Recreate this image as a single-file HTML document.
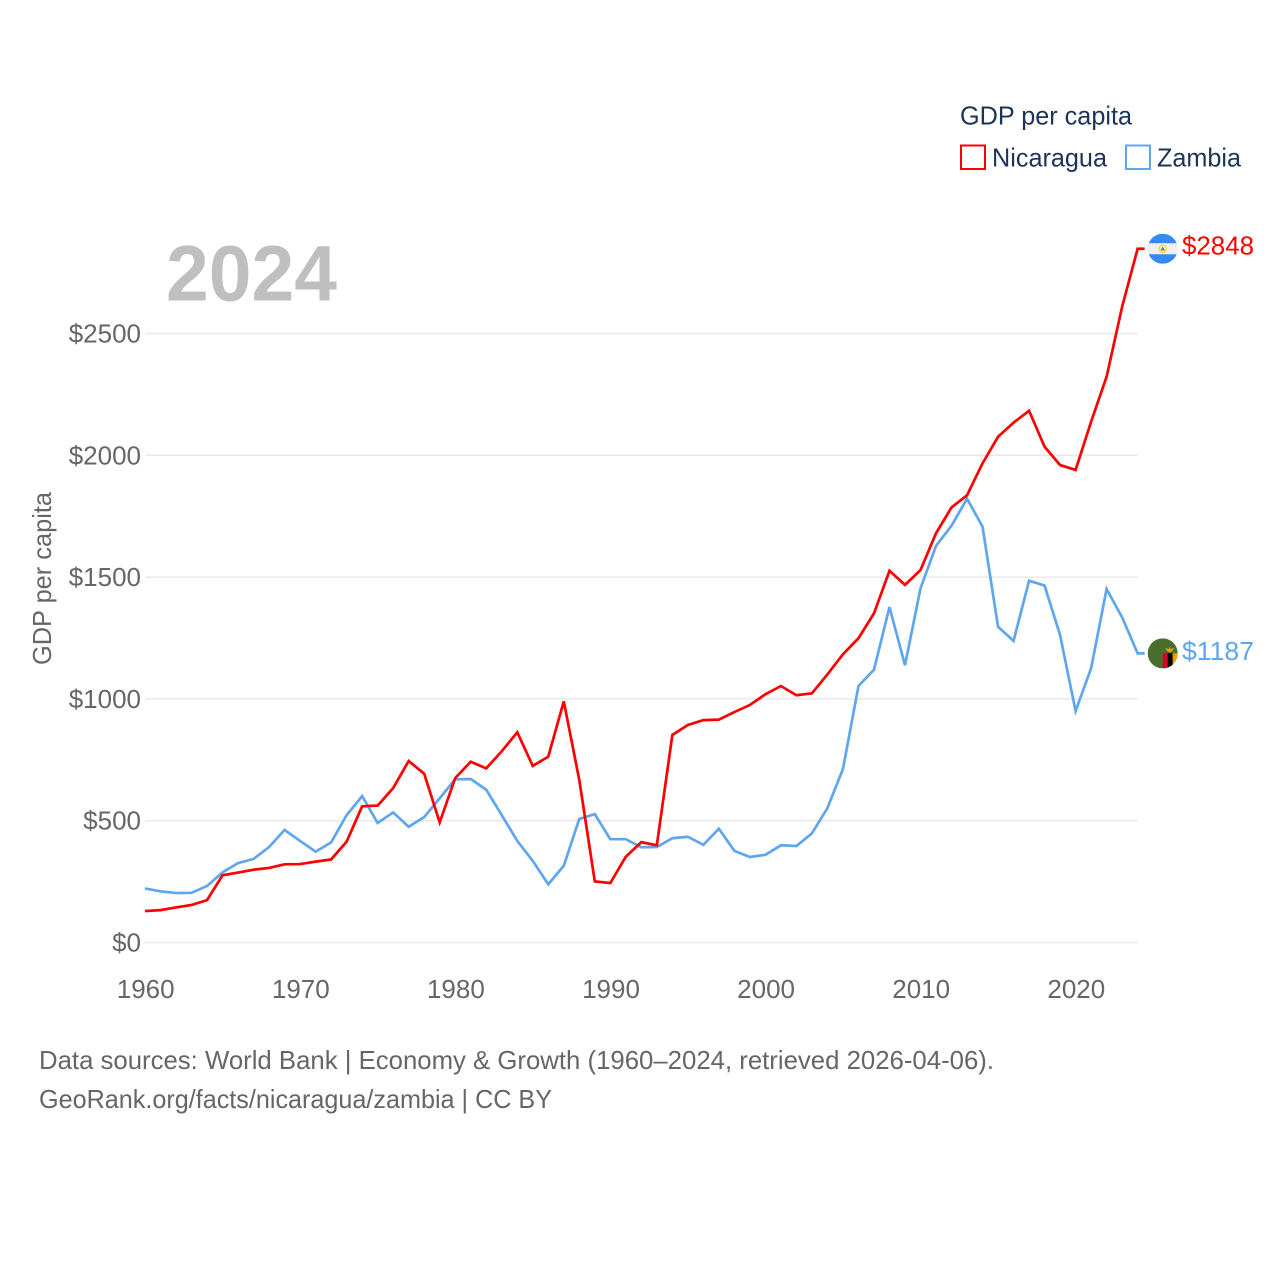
<!DOCTYPE html>
<html lang="en">
<head>
<meta charset="utf-8">
<title>GDP per capita: Nicaragua and Zambia</title>
<style>
html,body{margin:0;padding:0;background:#fff;}
svg{display:block;font-family:"Liberation Sans",sans-serif;}
</style>
</head>
<body>
<svg id="chart" xmlns="http://www.w3.org/2000/svg" width="1280" height="1280" viewBox="0 0 1280 1280">
  <rect x="0" y="0" width="1280" height="1280" fill="#ffffff"/>
  <g id="grid"></g>
  <g id="y-ticks"></g>
  <g id="x-ticks"></g>
  <text x="166" y="300.5" font-size="79" font-weight="700" fill="#bfbfbf" textLength="171" lengthAdjust="spacingAndGlyphs">2024</text>
  <text transform="translate(51,578.5) rotate(-90)" text-anchor="middle" font-size="26" fill="#666666" textLength="173" lengthAdjust="spacingAndGlyphs">GDP per capita</text>
  <g id="series"></g>
  <g id="flag-nicaragua">
    <clipPath id="clip-nic"><circle cx="0" cy="0" r="15"/></clipPath>
    <g clip-path="url(#clip-nic)">
      <rect x="-15" y="-15" width="30" height="30" fill="#338af3"/>
      <rect x="-15" y="-5.5" width="30" height="11" fill="#f0f0f0"/>
    </g>
    <circle cx="0" cy="0" r="3.6" fill="#ffffff" stroke="#ffda44" stroke-width="1.8"/>
    <path d="M-2.4 1.8 L0 -2.2 L2.4 1.8 Z" fill="#5b7a96"/>
  </g>
  <g id="flag-zambia">
    <clipPath id="clip-zam"><circle cx="0" cy="0" r="15"/></clipPath>
    <g clip-path="url(#clip-zam)">
      <rect x="-15" y="-15" width="30" height="30" fill="#496e2d"/>
      <rect x="0" y="0" width="5" height="15" fill="#d80027"/>
      <rect x="5" y="0" width="5" height="15" fill="#000000"/>
      <rect x="10" y="0" width="5" height="15" fill="#ff9811"/>
    </g>
    <path d="M2.5 -5.5 L6 -4.2 L7 -6.5 L8 -4.2 L11.5 -5.5 L9.5 -2.4 L7 -1 L4.5 -2.4 Z" fill="#ff9811"/>
  </g>
  <text id="label-nicaragua" x="1182" font-size="26" fill="#ff0000" textLength="72" lengthAdjust="spacingAndGlyphs"></text>
  <text id="label-zambia" x="1182" font-size="26" fill="#5fa6ee" textLength="72" lengthAdjust="spacingAndGlyphs"></text>

  <g>
    <text x="960" y="124.5" font-size="26" fill="#1c3557" textLength="172" lengthAdjust="spacingAndGlyphs">GDP per capita</text>
    <g>
      <rect x="961" y="145.5" width="24" height="23.5" fill="none" stroke="#ff0000" stroke-width="2"/>
      <text x="992" y="166.5" font-size="26" fill="#1c3557" textLength="115" lengthAdjust="spacingAndGlyphs">Nicaragua</text>
    </g>
    <g>
      <rect x="1126" y="145.5" width="24" height="23.5" fill="none" stroke="#5fa6ee" stroke-width="2"/>
      <text x="1157" y="166.5" font-size="26" fill="#1c3557" textLength="84" lengthAdjust="spacingAndGlyphs">Zambia</text>
    </g>
  </g>

  <text x="39" y="1069" font-size="26" fill="#666666" textLength="955" lengthAdjust="spacingAndGlyphs">Data sources: World Bank | Economy &amp; Growth (1960–2024, retrieved 2026-04-06).</text>
  <text x="39" y="1108" font-size="26" fill="#666666" textLength="513" lengthAdjust="spacingAndGlyphs">GeoRank.org/facts/nicaragua/zambia | CC BY</text>
</svg>
<script>
const startYear = 1960;
const yTickValues = [0, 500, 1000, 1500, 2000, 2500];
const xTickYears = [1960, 1970, 1980, 1990, 2000, 2010, 2020];
const nicaraguaValues = [
  129, 133, 144, 154, 174, 276, 287, 299, 306, 321,
  322, 332, 341, 414, 559, 562, 634, 745, 693, 493,
  675, 742, 715, 785, 863, 725, 763, 990, 667, 251,
  244, 352, 412, 399, 852, 893, 913, 915, 946, 975,
  1019, 1053, 1015, 1023, 1101, 1183, 1249, 1351, 1526, 1468,
  1529, 1680, 1786, 1836, 1967, 2076, 2134, 2183, 2035, 1960,
  1940, 2138, 2323, 2610, 2848
];
const zambiaValues = [
  222, 210, 203, 204, 232, 288, 326, 343, 392, 462,
  417, 373, 411, 523, 601, 491, 534, 475, 515, 592,
  670, 671, 627, 523, 417, 335, 239, 315, 507, 527,
  424, 424, 391, 392, 428, 434, 401, 467, 376, 351,
  360, 399, 396, 448, 552, 712, 1053, 1120, 1377, 1138,
  1454, 1628, 1711, 1822, 1707, 1296, 1238, 1485, 1465, 1262,
  950, 1126, 1451, 1335, 1187
];

const SVG_NS = 'http://www.w3.org/2000/svg';
function xScale(year) { return 145 + (year - 1960) * 15.51; }
function yScale(value) { return 942.5 - value * 0.2436; }
const lastYear = startYear + nicaraguaValues.length - 1;
const gridLeft = 145;
const gridRight = xScale(lastYear);

const gridGroup = document.getElementById('grid');
const yTickGroup = document.getElementById('y-ticks');
yTickValues.forEach(function (v) {
  const line = document.createElementNS(SVG_NS, 'line');
  
  
  line.setAttribute('x1', gridLeft);
  line.setAttribute('x2', gridRight);
  line.setAttribute('y1', yScale(v));
  line.setAttribute('y2', yScale(v));
  line.setAttribute('stroke', '#e9e9e9');
  line.setAttribute('stroke-width', '1.5');
  gridGroup.appendChild(line);

  const label = document.createElementNS(SVG_NS, 'text');
  
  
  label.setAttribute('x', 141);
  label.setAttribute('y', yScale(v) + 9);
  label.setAttribute('text-anchor', 'end');
  label.setAttribute('font-size', '26');
  label.setAttribute('fill', '#666666');
  label.textContent = '$' + v;
  yTickGroup.appendChild(label);
});

const xTickGroup = document.getElementById('x-ticks');
xTickYears.forEach(function (yr) {
  const label = document.createElementNS(SVG_NS, 'text');
  
  
  label.setAttribute('x', xScale(yr) + 0.7);
  label.setAttribute('y', 998);
  label.setAttribute('text-anchor', 'middle');
  label.setAttribute('font-size', '26');
  label.setAttribute('fill', '#666666');
  label.textContent = String(yr);
  xTickGroup.appendChild(label);
});

function buildPoints(values) {
  const pts = values.map(function (v, i) {
    return xScale(startYear + i).toFixed(2) + ',' + yScale(v).toFixed(2);
  });
  const last = values[values.length - 1];
  pts.push((xScale(lastYear) + 7).toFixed(2) + ',' + yScale(last).toFixed(2));
  return pts.join(' ');
}

const seriesGroup = document.getElementById('series');

const zambiaLine = document.createElementNS(SVG_NS, 'polyline');


zambiaLine.setAttribute('points', buildPoints(zambiaValues));
zambiaLine.setAttribute('fill', 'none');
zambiaLine.setAttribute('stroke', '#5fa6ee');
zambiaLine.setAttribute('stroke-width', '2.7');
zambiaLine.setAttribute('stroke-linejoin', 'miter');
seriesGroup.appendChild(zambiaLine);

const nicaraguaLine = document.createElementNS(SVG_NS, 'polyline');


nicaraguaLine.setAttribute('points', buildPoints(nicaraguaValues));
nicaraguaLine.setAttribute('fill', 'none');
nicaraguaLine.setAttribute('stroke', '#ff0000');
nicaraguaLine.setAttribute('stroke-width', '2.7');
nicaraguaLine.setAttribute('stroke-linejoin', 'miter');
seriesGroup.appendChild(nicaraguaLine);

const nicLast = nicaraguaValues[nicaraguaValues.length - 1];
const zamLast = zambiaValues[zambiaValues.length - 1];
document.getElementById('flag-nicaragua').setAttribute('transform', 'translate(1162.7,' + yScale(nicLast) + ')');
document.getElementById('flag-zambia').setAttribute('transform', 'translate(1162.7,' + yScale(zamLast) + ')');
const nicLabel = document.getElementById('label-nicaragua');
nicLabel.setAttribute('y', yScale(nicLast) + 6);
nicLabel.textContent = '$' + nicLast;
const zamLabel = document.getElementById('label-zambia');
zamLabel.setAttribute('y', yScale(zamLast) + 6.5);
zamLabel.textContent = '$' + zamLast;
</script>
</body>
</html>
